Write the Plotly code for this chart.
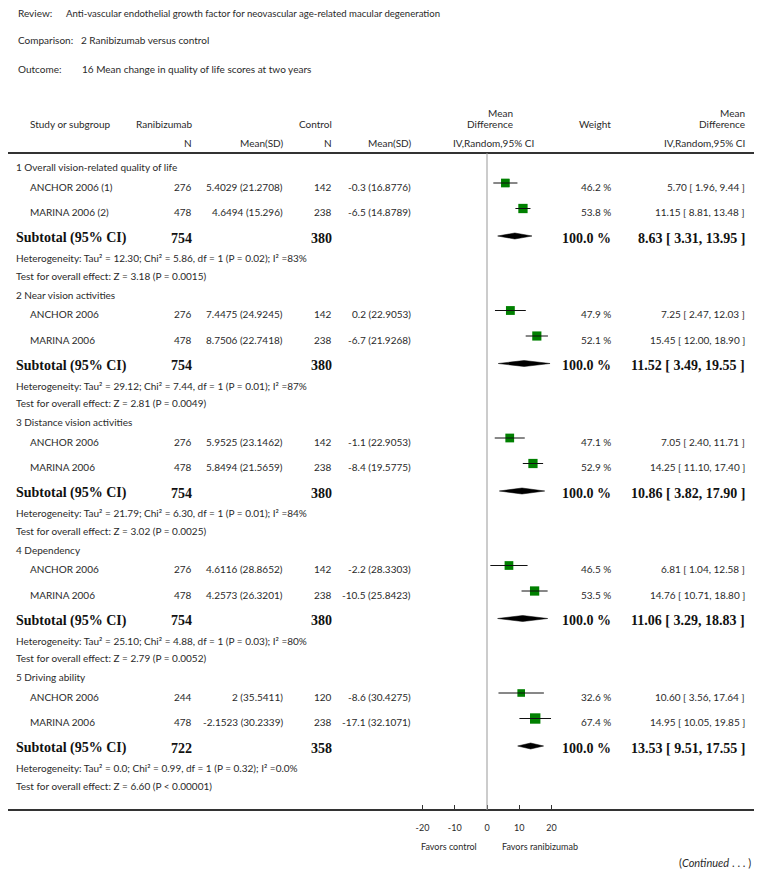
import plotly.graph_objects as go

# ---------------- data ----------------
groups = ["1 Overall vision-related quality of life", "2 Near vision activities",
          "3 Distance vision activities", "4 Dependency", "5 Driving ability"]
studies = [["ANCHOR 2006 (1)", "MARINA 2006 (2)"], ["ANCHOR 2006", "MARINA 2006"],
           ["ANCHOR 2006", "MARINA 2006"], ["ANCHOR 2006", "MARINA 2006"],
           ["ANCHOR 2006", "MARINA 2006"]]
rani_n = [[276, 478], [276, 478], [276, 478], [276, 478], [244, 478]]
rani_mean_sd = [["5.4029 (21.2708)", "4.6494 (15.296)"], ["7.4475 (24.9245)", "8.7506 (22.7418)"],
                ["5.9525 (23.1462)", "5.8494 (21.5659)"], ["4.6116 (28.8652)", "4.2573 (26.3201)"],
                ["2 (35.5411)", "-2.1523 (30.2339)"]]
ctrl_n = [[142, 238], [142, 238], [142, 238], [142, 238], [120, 238]]
ctrl_mean_sd = [["-0.3 (16.8776)", "-6.5 (14.8789)"], ["0.2 (22.9053)", "-6.7 (21.9268)"],
                ["-1.1 (22.9053)", "-8.4 (19.5775)"], ["-2.2 (28.3303)", "-10.5 (25.8423)"],
                ["-8.6 (30.4275)", "-17.1 (32.1071)"]]
weights = [[46.2, 53.8], [47.9, 52.1], [47.1, 52.9], [46.5, 53.5], [32.6, 67.4]]
md = [[5.70, 11.15], [7.25, 15.45], [7.05, 14.25], [6.81, 14.76], [10.60, 14.95]]
md_lo = [[1.96, 8.81], [2.47, 12.00], [2.40, 11.10], [1.04, 10.71], [3.56, 10.05]]
md_hi = [[9.44, 13.48], [12.03, 18.90], [11.71, 17.40], [12.58, 18.80], [17.64, 19.85]]
sub_rani_n = [754, 754, 754, 754, 722]
sub_ctrl_n = [380, 380, 380, 380, 358]
sub_md = [8.63, 11.52, 10.86, 11.06, 13.53]
sub_lo = [3.31, 3.49, 3.82, 3.29, 9.51]
sub_hi = [13.95, 19.55, 17.90, 18.83, 17.55]
heterogeneity = ["Tau² = 12.30; Chi² = 5.86, df = 1 (P = 0.02); I² =83%",
                 "Tau² = 29.12; Chi² = 7.44, df = 1 (P = 0.01); I² =87%",
                 "Tau² = 21.79; Chi² = 6.30, df = 1 (P = 0.01); I² =84%",
                 "Tau² = 25.10; Chi² = 4.88, df = 1 (P = 0.03); I² =80%",
                 "Tau² = 0.0; Chi² = 0.99, df = 1 (P = 0.32); I² =0.0%"]
overall_effect = ["Z = 3.18 (P = 0.0015)", "Z = 2.81 (P = 0.0049)", "Z = 3.02 (P = 0.0025)",
                  "Z = 2.79 (P = 0.0052)", "Z = 6.60 (P < 0.00001)"]
tick_vals = [-20, -10, 0, 10, 20]
tick_text = ["-20", "-10", "0", "10", "20"]

# ---------------- layout constants ----------------
PAGE_W, PAGE_H = 762, 875
OX, OY = 8, 8                      # default page body margin
FW, FH = PAGE_W - OX, PAGE_H - OY  # figure size
SANS = "Lato"
SERIF = "Liberation Serif"
TXT = "#2a2a2a"
FS = 10
BFS = 14
ZERO_PX = 487.0
PX_PER_UNIT = 3.225
AX_L, AX_R = 7, 755
AXIS_Y = 810
RULE_Y = 153
G0, GSTEP = 167, 127.5
OFF = dict(head=0, s1=19.5, s2=45, sub=71, het=91, test=108.5)

fig = go.Figure()
ann = []


def px2paper(px):
    return (px - OX) / FW


def text(px, py, s, anchor="left", size=FS, font=SANS, color=TXT):
    ann.append(dict(x=px2paper(px), y=py, xref="paper", yref="y", text=s, showarrow=False,
                    xanchor=anchor, yanchor="middle",
                    font=dict(family=font, size=size, color=color)))


# title block
text(16, 13, "Review:")
text(64, 13, "Anti-vascular endothelial growth factor for neovascular age-related macular degeneration",
     size=9.6)
text(16, 40, "Comparison:")
text(79, 40, "2 Ranibizumab versus control")
text(16, 69, "Outcome:")
text(80, 69, "16 Mean change in quality of life scores at two years")

# headers
text(28, 124, "Study or subgroup")
text(194, 124, "Ranibizumab", "right")
text(194, 143, "N", "right")
text(285, 143, "Mean(SD)", "right")
text(334, 124, "Control", "right")
text(334, 143, "N", "right")
text(413, 143, "Mean(SD)", "right")
text(515, 113, "Mean", "right")
text(515, 124, "Difference", "right")
text(493, 143, "IV,Random,95% CI", "center")
text(613, 124, "Weight", "right")
text(747, 113, "Mean", "right")
text(747, 124, "Difference", "right")
text(747, 143, "IV,Random,95% CI", "right")

sq_x, sq_y, sq_s = [], [], []
ci_x, ci_y = [], []
dia_x, dia_y = [], []

for g in range(len(groups)):
    base = G0 + GSTEP * g
    text(14, base + OFF["head"], groups[g])
    for i, k in enumerate(["s1", "s2"]):
        y = base + OFF[k]
        text(28, y, studies[g][i])
        text(194, y, str(rani_n[g][i]), "right")
        text(285, y, rani_mean_sd[g][i], "right")
        text(334, y, str(ctrl_n[g][i]), "right")
        text(413, y, ctrl_mean_sd[g][i], "right")
        text(613, y, f"{weights[g][i]:.1f} %", "right")
        text(747, y, f"{md[g][i]:.2f} [ {md_lo[g][i]:.2f}, {md_hi[g][i]:.2f} ]", "right")
        ym = y - 3.5
        sq_x.append(md[g][i]); sq_y.append(ym); sq_s.append(5 + 8 * weights[g][i] / 100)
        ci_x += [md_lo[g][i], md_hi[g][i], None]; ci_y += [ym, ym, None]
    y = base + OFF["sub"]
    text(14, y, "<b>Subtotal (95% CI)</b>", size=BFS, font=SERIF, color="#111")
    text(194, y, f"<b>{sub_rani_n[g]}</b>", "right", size=BFS, font=SERIF, color="#111")
    text(334, y, f"<b>{sub_ctrl_n[g]}</b>", "right", size=BFS, font=SERIF, color="#111")
    text(613, y, "<b>100.0 %</b>", "right", size=BFS, font=SERIF, color="#111")
    text(747, y, f"<b>{sub_md[g]:.2f} [ {sub_lo[g]:.2f}, {sub_hi[g]:.2f} ]</b>", "right",
         size=BFS, font=SERIF, color="#111")
    yd = y - 2
    dia_x += [sub_lo[g], sub_md[g], sub_hi[g], sub_md[g], sub_lo[g], None]
    dia_y += [yd, yd - 3, yd, yd + 3, yd, None]
    text(14, base + OFF["het"], "Heterogeneity: " + heterogeneity[g])
    text(14, base + OFF["test"], "Test for overall effect: " + overall_effect[g])

# footer labels
text(449, 846, "Favors control", "center", size=9)
text(540, 846, "Favors ranibizumab", "center", size=9)
text(753, 862, "(<i>Continued</i> . . . )", "right", size=11)

# marks
fig.add_trace(go.Scatter(x=dia_x, y=dia_y, mode="lines", fill="toself", fillcolor="black",
                         line=dict(color="black", width=0.5), hoverinfo="skip"))
fig.add_trace(go.Scatter(x=sq_x, y=sq_y, mode="markers",
                         marker=dict(symbol="square", size=sq_s, color="#008000", opacity=1,
                                     line=dict(width=0)), hoverinfo="skip"))
fig.add_trace(go.Scatter(x=ci_x, y=ci_y, mode="lines", line=dict(color="#111", width=1),
                         hoverinfo="skip"))

# rules and zero line
shapes = [
    dict(type="line", xref="paper", yref="y", x0=px2paper(AX_L), x1=px2paper(AX_R),
         y0=RULE_Y, y1=RULE_Y, line=dict(color="#333", width=2)),
    dict(type="line", xref="x", yref="y", x0=0, x1=0, y0=RULE_Y, y1=AXIS_Y,
         line=dict(color="#999", width=1)),
]

ax_lo = max(px2paper(AX_L), 0)
ax_hi = px2paper(AX_R)
x_lo_dom = (max(AX_L, OX) - ZERO_PX) / PX_PER_UNIT
x_hi_dom = (AX_R - ZERO_PX) / PX_PER_UNIT

fig.update_layout(
    width=FW, height=FH, margin=dict(l=0, r=0, t=0, b=0),
    paper_bgcolor="white", plot_bgcolor="white", showlegend=False,
    annotations=ann, shapes=shapes,
    xaxis=dict(domain=[ax_lo, ax_hi], range=[x_lo_dom, x_hi_dom], anchor="free",
               position=(PAGE_H - AXIS_Y) / FH, showline=True, linecolor="#333", linewidth=2,
               ticks="inside", ticklen=4, tickcolor="#333", tickwidth=1,
               tickvals=tick_vals, ticktext=tick_text, ticklabelstandoff=9,
               tickfont=dict(family=SANS, size=9, color=TXT),
               showgrid=False, zeroline=False, fixedrange=True),
    yaxis=dict(domain=[0, 1], range=[PAGE_H, OY], visible=False, showgrid=False,
               zeroline=False, fixedrange=True),
)

fig.write_html("out.html")
